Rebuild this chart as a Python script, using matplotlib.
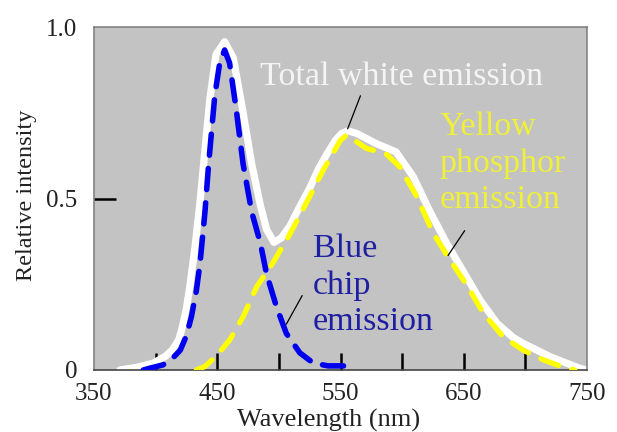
import numpy as np
import matplotlib
matplotlib.use("Agg")
import matplotlib.pyplot as plt

# values
total_nm = [371, 385, 398, 408, 414, 419, 422, 425, 428, 432, 436, 440, 444, 449,
            456, 463, 471, 478, 485, 490, 496, 502, 509, 516, 525, 532, 539, 546,
            551, 556, 563, 579, 595, 609, 622, 636, 650, 663, 677, 690, 698, 720,
            744, 750]
total_int = [0.0, 0.008, 0.02, 0.04, 0.06, 0.09, 0.13, 0.18, 0.25, 0.36, 0.49, 0.64,
             0.79, 0.92, 0.957, 0.91, 0.75, 0.60, 0.48, 0.41, 0.372, 0.385, 0.42,
             0.47, 0.53, 0.585, 0.63, 0.67, 0.69, 0.697, 0.69, 0.66, 0.636, 0.564,
             0.466, 0.37, 0.285, 0.205, 0.136, 0.095, 0.078, 0.039, 0.005, 0.0]

blue_nm = [390, 395, 406, 414, 420, 425, 429, 433, 436, 440, 443, 448, 452, 456,
           460, 465, 471, 478, 485, 490, 498, 506, 517, 528, 540, 563]
blue_int = [0.0, 0.005, 0.015, 0.035, 0.058, 0.10, 0.155, 0.23, 0.31, 0.46, 0.60,
            0.80, 0.895, 0.933, 0.895, 0.77, 0.60, 0.46, 0.37, 0.28, 0.185, 0.107,
            0.05, 0.02, 0.012, 0.012]

yellow_nm = [433, 440, 449, 460, 471, 482, 493, 508, 522, 536, 550, 555, 571, 587,
             598, 612, 625, 639, 652, 666, 682, 698, 715, 733, 740]
yellow_int = [0.0, 0.01, 0.04, 0.087, 0.155, 0.243, 0.30, 0.39, 0.485, 0.583, 0.67,
              0.685, 0.646, 0.63, 0.593, 0.505, 0.40, 0.32, 0.25, 0.165, 0.097,
              0.058, 0.029, 0.005, 0.0]

xtick_vals = [350, 450, 550, 650, 750]
xtick_marks = [400, 450, 500, 550, 600, 650, 700]
ytick_vals = [0, 0.5, 1.0]
ytick_labels = ['0', '0.5', '1.0']

plt.rcParams['font.family'] = ['Liberation Serif', 'DejaVu Serif']

fig = plt.figure(figsize=(6.17, 4.32), dpi=100)
ax = fig.add_axes([94 / 617, 62 / 432, 493 / 617, 343 / 432])
ax.set_facecolor('#c3c3c3')

ax.plot(total_nm, total_int, color='white', lw=5.2, solid_capstyle='round',
        solid_joinstyle='round', clip_on=False, zorder=2)
ax.plot(yellow_nm, yellow_int, color='#ffff00', lw=3.8, dashes=(3.6, 2.6),
        dash_capstyle='round', zorder=3)
ax.plot(blue_nm, blue_int, color='#0000ee', lw=4, dashes=(3.8, 2.4),
        dash_capstyle='round', zorder=4)

ax.set_xlim(350, 750)
ax.set_ylim(0, 1.0)

# tick marks sit on some label positions, so keep both
ax.xaxis.remove_overlapping_locs = False
ax.yaxis.remove_overlapping_locs = False
ax.set_xticks(xtick_vals)
ax.set_xticks(xtick_marks, minor=True)
ax.set_yticks(ytick_vals, ytick_labels)
ax.set_yticks([0.5], minor=True)
ax.tick_params(which='major', length=0, labelsize=18, labelcolor='#222222')
ax.tick_params(axis='x', which='major', pad=9)
ax.tick_params(axis='y', which='major', pad=12)
ax.tick_params(which='minor', direction='in', length=12, width=1.8, color='black')
ax.tick_params(axis='y', which='minor', length=15.5)

for side in ['left', 'top', 'right']:
    ax.spines[side].set_color('#7a7a7a')
    ax.spines[side].set_linewidth(1.1)
ax.spines['bottom'].set_color('#454545')
ax.spines['bottom'].set_linewidth(1.2)

ax.set_xlabel('Wavelength (nm)', fontsize=19, color='#222222')
ax.xaxis.set_label_coords(0.475, -0.112)
ax.set_ylabel('Relative intensity', fontsize=17.5, color='#222222')
ax.yaxis.set_label_coords(-0.116, 0.51)

# curve labels
fs = 24.5
step = 0.107
ax.text(484.7, 0.831, 'Total white emission', color='#f4f4f4', fontsize=fs,
        va='baseline', ha='left')
for i, line in enumerate(['Yellow', 'phosphor', 'emission']):
    ax.text(630.5, 0.685 - i * step, line, color='#f0f03a', fontsize=fs,
            va='baseline', ha='left')
for i, line in enumerate(['Blue', 'chip', 'emission']):
    ax.text(527.7, 0.330 - i * step, line, color='#1f1fa3', fontsize=fs,
            va='baseline', ha='left')

# leader lines
arrow = dict(arrowstyle='-', color='black', lw=0.9)
ax.annotate('', xy=(555, np.interp(555, total_nm, total_int)), xytext=(567, 0.807),
            arrowprops=arrow, zorder=5)
ax.annotate('', xy=(636, np.interp(636, yellow_nm, yellow_int) - 0.01),
            xytext=(652, 0.413), arrowprops=arrow, zorder=5)
ax.annotate('', xy=(505, np.interp(505, blue_nm, blue_int) + 0.01),
            xytext=(520, 0.224), arrowprops=arrow, zorder=5)

fig.savefig('out.png', dpi=100)
